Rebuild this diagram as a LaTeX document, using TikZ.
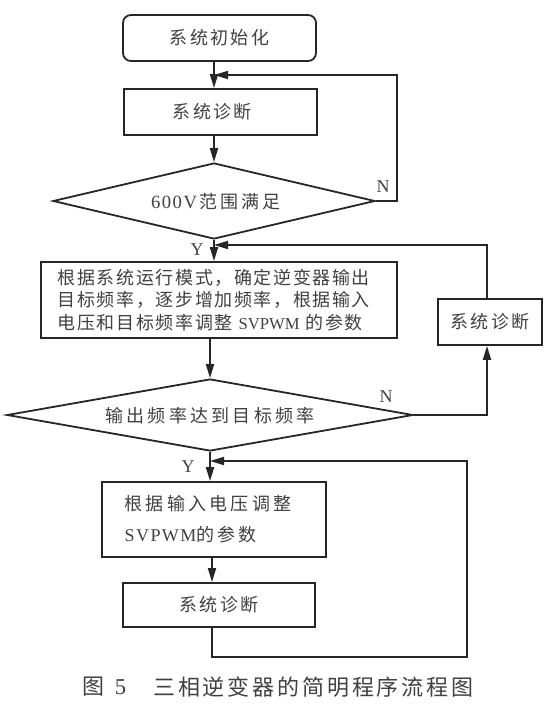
\documentclass[tikz,border=0pt]{standalone}
\usepackage{fontspec}
\setmainfont{Liberation Serif}
\newfontfamily\cjkA[LetterSpace=9]{Noto Sans CJK SC}
\newfontfamily\cjkB[LetterSpace=13]{Noto Sans CJK SC}
\newfontfamily\cjkC[LetterSpace=18]{Noto Sans CJK SC}
\newfontfamily\latS[LetterSpace=8]{Liberation Serif}
\usetikzlibrary{arrows.meta,shapes.geometric}
\tikzset{
  ln/.style={line width=1.35pt, draw=black!85},
  arr/.style={ln, -{Triangle[length=10.5pt,width=6pt]}},
  boxs/.style={ln, rectangle, inner sep=0pt, text=black!75},
  dia/.style={ln, diamond, aspect=4, inner sep=0pt, text=black!75},
  lbl/.style={text=black!75, font=\fontsize{13.5}{13.5}\selectfont, inner sep=0pt},
  txt/.style={text=black!75, inner sep=0pt}
}
\begin{document}
\begin{tikzpicture}[x=0.75pt,y=-0.75pt]
\useasboundingbox (0,0) rectangle (549,711);
% nodes
\node[boxs, rounded corners=6pt, minimum width=144.75pt, minimum height=34.5pt,
  font=\cjkB\fontsize{13.5}{16}\selectfont] (b1) at (219.5,38) {系统初始化};
\node[boxs, minimum width=144.75pt, minimum height=34.5pt,
  font=\cjkB\fontsize{13.5}{16}\selectfont] (b2) at (220.5,112) {\hspace*{-12pt}系统诊断};
\node[dia, minimum width=241.5pt, minimum height=57pt] (d1) at (214,201) {};
\node[txt] (t1) at (216,202) {{\latS\fontsize{14}{14}\selectfont 600V}\,{\cjkC\fontsize{13.5}{16}\selectfont 范围满足}};
\node[boxs, minimum width=267pt, minimum height=57pt, text width=242pt, align=left,
  font=\cjkA\fontsize{13.5}{16.9}\selectfont] (b3) at (219,300)
  {根据系统运行模式，确定逆变器输出\\目标频率，逐步增加频率，根据输入\\电压和目标频率调整 {\rmfamily\fontsize{12.5}{12.5}\selectfont SVPWM} 的参数};
\node[boxs, minimum width=78pt, minimum height=34.5pt,
  font=\cjkB\fontsize{13.5}{16}\selectfont] (side) at (490,322) {系统诊断};
\node[dia, minimum width=304.5pt, minimum height=54pt] (d2) at (210,415) {};
\node[txt, font=\cjkC\fontsize{13.5}{16}\selectfont] (t2) at (210,416) {输出频率达到目标频率};
\node[boxs, minimum width=168pt, minimum height=56.25pt, text width=134pt, align=left,
  font=\cjkC\fontsize{13.5}{23.25}\selectfont] (b4) at (214,519.5)
  {根据输入电压调整\\{\latS\fontsize{13.5}{13.5}\selectfont SVPWM}的参数};
\node[boxs, minimum width=144pt, minimum height=33pt,
  font=\cjkB\fontsize{13.5}{16}\selectfont] (b5) at (219,605) {系统诊断};
% labels
\node[lbl] (n1) at (383,187) {N};
\node[lbl] (y1) at (197,250) {Y};
\node[lbl] (n2) at (386,397) {N};
\node[lbl] (y2) at (188,467) {Y};
% caption
\node[txt, anchor=west, font=\cjkB\fontsize{16.5}{18}\selectfont] (c1) at (82,687)
  {图\hspace{8pt}{\rmfamily\fontsize{17}{17}\selectfont 5}};
\node[txt, anchor=west, font=\cjkB\fontsize{16.5}{18}\selectfont] (c2) at (153,687)
  {三相逆变器的简明程序流程图};
% helper coordinates
\coordinate (sp) at (214,0);
\coordinate (sp2) at (212,0);
\coordinate (r1) at (397,0);
\coordinate (r2) at (487,0);
\coordinate (j1) at (214,75);
\coordinate (j2) at (214,245);
\coordinate (j3) at (210,461);
\coordinate (r3) at (467,657);
% connectors
\draw[arr] (b1.south -| sp) -- (b2.north -| sp);
\draw[arr] (b2.south -| sp) -- (d1.north);
\draw[arr] (d1.east) -- (d1.east -| r1) -- (r1 |- j1) -- (j1);
\draw[arr] (d1.south) -- (b3.north -| d1.south);
\draw[arr] (side.north -| r2) -- (r2 |- j2) -- (j2);
\draw[arr] (b3.south -| d2.north) -- (d2.north);
\draw[arr] (d2.east) -- (d2.east -| r2) -- (side.south -| r2);
\draw[arr] (d2.south) -- (b4.north -| d2.south);
\draw[arr] (b4.south -| sp2) -- (b5.north -| sp2);
\draw[arr] (b5.south -| sp2) -- (sp2 |- r3) -- (r3) -- (r3 |- j3) -- (j3);
\end{tikzpicture}
\end{document}
